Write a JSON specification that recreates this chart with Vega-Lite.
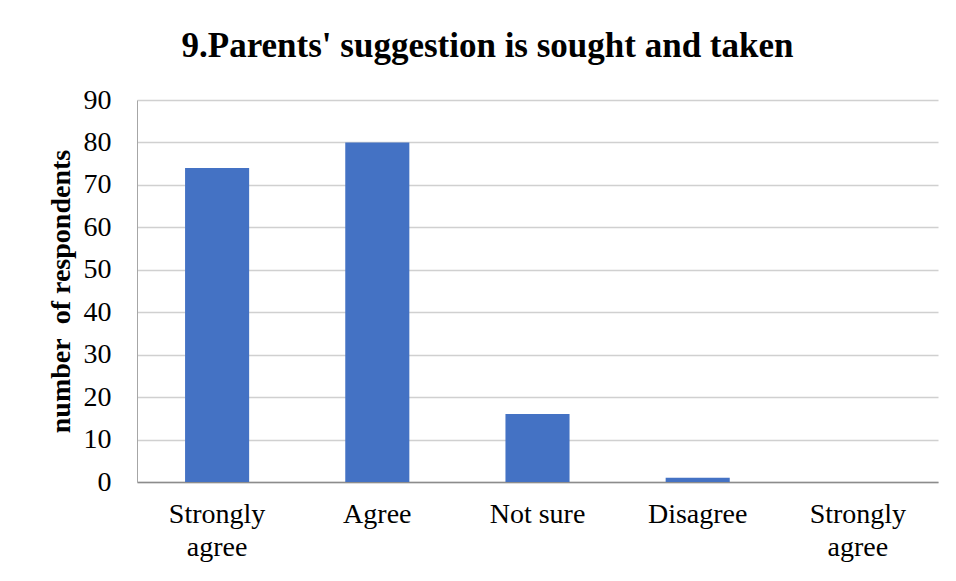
{
  "$schema": "https://vega.github.io/schema/vega-lite/v6.json",
  "width": 801,
  "height": 382,
  "autosize": {"type": "none"},
  "padding": {"left": 137, "top": 100, "right": 18, "bottom": 99},
  "background": "white",
  "title": {
    "text": "9.Parents' suggestion is sought and taken",
    "font": "Liberation Serif, Times New Roman, serif",
    "fontSize": 35,
    "fontWeight": "bold",
    "color": "black",
    "anchor": "middle",
    "frame": "bounds",
    "dx": -5,
    "offset": 22
  },
  "data": {
    "values": [
      {"category": "Strongly agree", "respondents": 74},
      {"category": "Agree", "respondents": 80},
      {"category": "Not sure", "respondents": 16},
      {"category": "Disagree", "respondents": 1},
      {"category": "Strongly agree ", "respondents": 0}
    ]
  },
  "mark": {"type": "bar", "color": "#4472C4"},
  "encoding": {
    "x": {
      "field": "category",
      "type": "nominal",
      "sort": null,
      "scale": {"paddingInner": 0.6, "paddingOuter": 0.3},
      "axis": {
        "title": null,
        "labelAngle": 0,
        "labelFont": "Liberation Serif, Times New Roman, serif",
        "labelFontSize": 28,
        "labelColor": "black",
        "labelPadding": 18,
        "labelLineHeight": 33,
        "labelExpr": "indexof(datum.label, 'Strongly') >= 0 ? ['Strongly', 'agree'] : datum.label",
        "ticks": false,
        "domainColor": "#8c8c8c",
        "domainWidth": 1.5,
        "grid": false
      }
    },
    "y": {
      "field": "respondents",
      "type": "quantitative",
      "scale": {"domain": [0, 90]},
      "axis": {
        "title": "number\u00a0\u00a0of respondents",
        "titleFont": "Liberation Serif, Times New Roman, serif",
        "titleFontSize": 28,
        "titleFontWeight": "bold",
        "titleColor": "black",
        "titlePadding": 8,
        "values": [0, 10, 20, 30, 40, 50, 60, 70, 80, 90],
        "labelFont": "Liberation Serif, Times New Roman, serif",
        "labelFontSize": 28,
        "labelColor": "black",
        "labelPadding": 26,
        "ticks": false,
        "domainColor": "#a6a6a6",
        "gridColor": "#d0d0d0",
        "gridWidth": 1.5
      }
    }
  },
  "config": {"view": {"stroke": null}}
}
